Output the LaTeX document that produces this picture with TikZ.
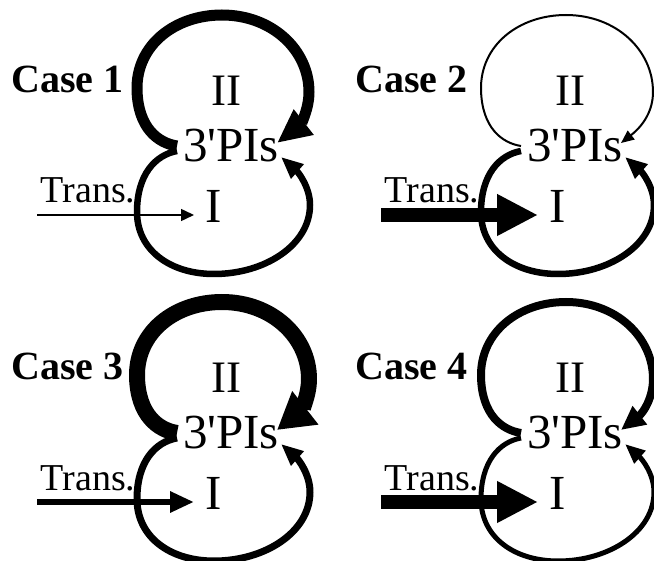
\documentclass[tikz,border=0pt]{standalone}
\usepackage{fontspec}
\setmainfont{Liberation Serif}[Ligatures=TeXOff]
\usetikzlibrary{arrows.meta}
\tikzset{
  casetxt/.style={font=\fontsize{40}{40}\selectfont\bfseries, anchor=base, inner sep=0pt},
  bigtxt/.style={font=\fontsize{49}{49}\selectfont, anchor=base, inner sep=0pt},
  midtxt/.style={font=\fontsize{45}{45}\selectfont, anchor=base, inner sep=0pt},
  transtxt/.style={font=\fontsize{38}{38}\selectfont, anchor=base, inner sep=0pt},
  loopline/.style={draw, line join=round, line cap=butt}
}
\begin{document}
\begin{tikzpicture}[x=1pt,y=-1pt]
\useasboundingbox (0,0) rectangle (654,561);
\foreach \n/\dx/\dy/\uw/\ul/\uwd/\lw/\ll/\lwd/\tw/\tl/\twd in
  {1/0/0/11/34/30/6.5/22/18/1.5/13/12,
   2/344/0/2/13/11/6.5/22/18/14/41/39,
   3/0/287/16/36/40/7/22/18/6/24/20,
   4/344/287/8/24/22/5/20/16/14/41/39}
{
\begin{scope}[shift={(\dx,\dy)}]
  \node[casetxt] (c\n) at (67.5,93) {Case \n};
  \node[midtxt] (ii\n) at (226.5,106) {II};
  \node[bigtxt] (p\n) at (231,162) {3'PIs};
  \node[bigtxt] (i\n) at (213.5,223) {I};
  \node[transtxt] (t\n) at (88,203) {Trans.};
  \coordinate (us\n) at (177,146);
  \coordinate (ut\n) at (277,143);
  \coordinate (ls\n) at (177,151);
  \coordinate (lt\n) at (281,157);
  \coordinate (ts\n) at (37,215);
  \coordinate (tt\n) at (194,215);
  % upper loop
  \draw[loopline, line width=\uw pt, -{Triangle[length=\ul pt, width=\uwd pt]}]
    (us\n) .. controls (158,143) and (138,128) .. (137,90)
    .. controls (136,45) and (175,15) .. (222,15)
    .. controls (272,15) and (309,50) .. (309,92)
    .. controls (309,110) and (300,125) .. (ut\n);
  % lower loop
  \draw[loopline, line width=\lw pt, -{Triangle[length=\ll pt, width=\lwd pt]}]
    (ls\n) .. controls (155,155) and (137,175) .. (137,212)
    .. controls (137,250) and (170,274) .. (214,274)
    .. controls (265,274) and (310,245) .. (310,205)
    .. controls (310,187) and (298,172) .. (lt\n);
  % transcription arrow
  \draw[line width=\tw pt, -{Triangle[length=\tl pt, width=\twd pt]}] (ts\n) -- (tt\n);
\end{scope}
}
\end{tikzpicture}
\end{document}
